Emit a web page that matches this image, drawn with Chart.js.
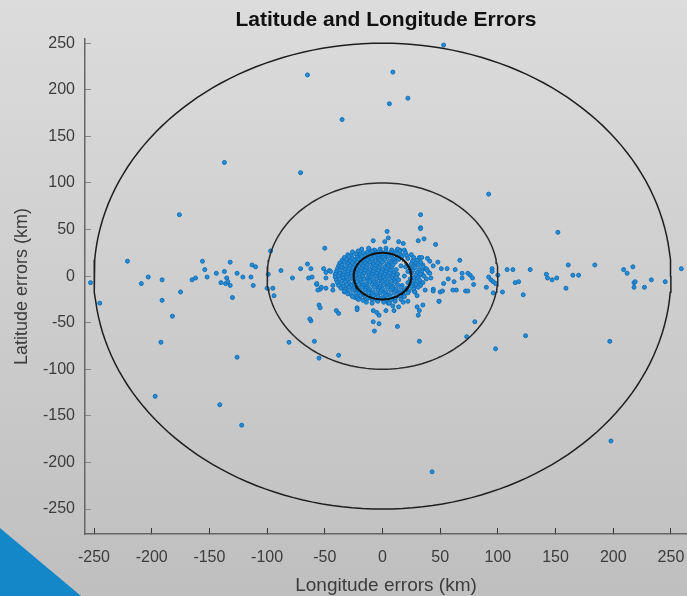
<!DOCTYPE html>
<html>
<head>
<meta charset="utf-8">
<script src="https://cdn.jsdelivr.net/npm/chart.js@4.4.0/dist/chart.umd.min.js"></script>
<style>
  html, body { margin: 0; padding: 0; background: #d0d0d0; }
  #wrap { width: 687px; height: 596px; }
</style>
</head>
<body>
<div id="wrap"><canvas id="errChart" width="687" height="596"></canvas></div>
<script>
// Error rings (km) and axis ticks
var ringRadii = [25, 100, 250];
var xTicks = [-250, -200, -150, -100, -50, 0, 50, 100, 150, 200, 250];
var yTicks = [-250, -200, -150, -100, -50, 0, 50, 100, 150, 200, 250];

// [longitude error, latitude error] in km, far scattered fixes
var farPts = [
    [53, 248], [-65, 216], [9, 219], [22, 191], [6, 185], [-35, 168], [-137, 122], [-71, 111],
    [-176, 66], [92, 88], [33, 66], [33, 52], [152, 47], [4, 48],
    [-192, -71], [-126, -87], [-197, -129], [-141, -138], [-122, -160], [-81, -71], [-59, -70],
    [-55, -88], [-38, -85], [-8, -49], [-3, -51], [-7, -59], [-62, -48],
    [13, -54], [32, -70], [73, -65], [80, -49], [98, -78], [124, -64], [197, -70], [198, -177], [43, -210],
    [-63, -46], [-55, -31], [-54, -34], [-40, -37], [-38, -40], [-22, -34], [-22, -36], [-8, -37],
    [-5, -39], [-3, -42], [3, -37], [10, -37], [30, -33], [35, -31], [32, -37], [31, -42], [49, -27],
    [-8, 38], [2, 37], [5, 41], [14, 37], [18, 35], [15, 28], [19, 28], [31, 38], [36, 40], [33, 51],
    [46, 34], [32, 20], [34, 20], [39, 19], [41, 16], [48, 15], [67, 17], [-50, 30], [-31, 17],
    [-33, 8], [-11, 27], [-6, 27], [-22, 24], [-20, 23], [-4, 20], [-1, 20]
];

// fixes along the east-west band
var bandPts = [
    [-253, -7], [-245, -29], [-221, 16], [-209, -8], [-203, -1], [-191, -4], [-191, -26], [-182, -43],
    [-175, -17], [-165, -4], [-162, -2], [-156, 16], [-154, 7], [-152, -1], [-144, 3], [-140, -7],
    [-137, 5], [-136, -8], [-135, -2], [-134, -6], [-132, 15], [-132, -10], [-130, -23], [-126, 3],
    [-121, -1], [-114, -1], [-113, 12], [-110, 10], [-112, -10], [-100, -13], [-97, 27], [-99, 2],
    [-95, -13], [-94, -21], [-88, 6], [-78, -2], [-71, 8], [-65, 13], [-62, 8], [-64, -2], [-61, -1],
    [-57, -9], [-54, -14], [-51, 8], [-49, -2], [-46, 6], [-49, -13], [-43, -10], [-33, -17],
    [-24, -23], [-20, -23], [-49, 4], [-45, 5], [-56, -15], [-43, -15], [-57, -8], [-53, -12],
    [95, 8], [92, -1], [94, -4], [96, -6], [98, -8], [90, -12], [96, -18], [100, 1], [95, 5],
    [104, -17], [108, 7], [113, 7], [115, -7], [118, -6], [122, -20], [128, 7], [142, 2], [143, -2],
    [147, -4], [151, -2], [161, 12], [165, 1], [170, 1], [159, -13], [184, 12], [209, 7], [212, 3],
    [217, 10], [218, -7], [219, -6], [218, -12], [227, -12], [233, -4], [245, -6], [259, 8],
    [44, 11], [51, 8], [56, 8], [63, 7], [57, -3], [53, -8], [62, -6], [69, 3], [74, 3], [76, 1],
    [78, -2], [79, -9], [72, -16], [64, -15], [50, -17], [44, -14], [37, -15], [28, -17], [30, -21],
    [27, -11], [33, -7], [35, 1], [37, 8], [35, 12], [40, 4], [16, 11], [18, -28], [22, -27],
    [9, -32], [14, -33], [5, -29], [69, -2], [61, -15], [52, -16], [44, -16], [74, -16], [49, -27]
];

// dense core around the origin
var corePts = [
    [-18, 29], [-12, 30], [-7, 28], [-2, 29], [3, 30], [8, 28], [13, 29],
    [-26, 26], [-21, 27], [-17, 25], [-13, 26], [-9, 27], [-5, 25], [-1, 26], [3, 27], [7, 25], [11, 26], [15, 27], [20, 25],
    [-30, 23], [-27, 22], [-23, 24], [-19, 23], [-15, 22], [-11, 24], [-8, 23], [-4, 22], [0, 24], [4, 23], [8, 22], [12, 24], [16, 23], [21, 22], [25, 23],
    [-33, 20], [-29, 21], [-26, 19], [-22, 20], [-18, 21], [-14, 19], [-10, 20], [-7, 21], [-3, 19], [1, 20], [5, 21], [9, 19], [13, 20], [17, 21], [22, 19], [27, 20],
    [-35, 17], [-31, 18], [-28, 16], [-24, 17], [-21, 18], [-17, 16], [-13, 17], [-9, 18], [-6, 16], [-2, 17], [2, 18], [6, 16], [10, 17], [14, 18], [26, 16], [30, 17],
    [-37, 14], [-33, 15], [-30, 13], [-26, 14], [-22, 15], [-19, 13], [-15, 14], [-11, 15], [-8, 13], [-4, 14], [0, 15], [4, 13], [8, 14], [11, 15], [25, 13], [29, 14], [33, 15],
    [-38, 11], [-35, 12], [-31, 10], [-28, 11], [-24, 12], [-20, 10], [-17, 11], [-13, 12], [-9, 10], [-6, 11], [-2, 12], [2, 10], [5, 11], [9, 12], [20, 10], [27, 11], [31, 12], [35, 10],
    [-39, 8], [-36, 9], [-32, 7], [-29, 8], [-25, 9], [-22, 7], [-18, 8], [-14, 9], [-11, 7], [-7, 8], [-3, 9], [0, 7], [4, 8], [8, 9], [12, 7], [24, 8], [28, 9], [32, 7], [38, 8],
    [-40, 5], [-37, 6], [-33, 4], [-30, 5], [-26, 6], [-23, 4], [-19, 5], [-15, 6], [-12, 4], [-8, 5], [-4, 6], [-1, 4], [3, 5], [7, 6], [10, 4], [22, 5], [26, 6], [30, 4], [34, 5], [39, 6],
    [-41, 2], [-37, 3], [-34, 1], [-30, 2], [-27, 3], [-23, 1], [-20, 2], [-16, 3], [-12, 1], [-9, 2], [-5, 3], [-2, 1], [2, 2], [6, 3], [9, 1], [13, 2], [25, 3], [29, 1], [33, 2], [41, 3],
    [-41, -1], [-38, 0], [-34, -2], [-31, -1], [-27, 0], [-24, -2], [-20, -1], [-17, 0], [-13, -2], [-10, -1], [-6, 0], [-2, -2], [1, -1], [5, 0], [8, -2], [12, -1], [19, 0], [27, -2], [31, -1], [36, 0], [42, -2],
    [-40, -4], [-37, -3], [-33, -5], [-30, -4], [-26, -3], [-23, -5], [-19, -4], [-16, -3], [-12, -5], [-9, -4], [-5, -3], [-1, -5], [2, -4], [6, -3], [10, -5], [14, -4], [24, -3], [28, -5], [32, -4], [38, -3],
    [-39, -7], [-36, -8], [-32, -6], [-29, -7], [-25, -8], [-22, -6], [-18, -7], [-14, -8], [-11, -6], [-7, -7], [-4, -8], [0, -6], [4, -7], [7, -8], [11, -6], [22, -7], [26, -8], [30, -6], [35, -7],
    [-38, -10], [-34, -11], [-31, -9], [-27, -10], [-24, -11], [-20, -9], [-17, -10], [-13, -11], [-9, -9], [-6, -10], [-2, -11], [1, -9], [5, -10], [9, -11], [13, -9], [17, -10], [25, -11], [29, -9], [33, -10],
    [-36, -13], [-32, -14], [-29, -12], [-25, -13], [-22, -14], [-18, -12], [-14, -13], [-11, -14], [-7, -12], [-3, -13], [0, -14], [4, -12], [8, -13], [12, -14], [16, -12], [21, -13], [27, -14], [31, -12],
    [-33, -16], [-30, -17], [-26, -15], [-23, -16], [-19, -17], [-15, -15], [-12, -16], [-8, -17], [-4, -15], [-1, -16], [3, -17], [7, -15], [11, -16], [15, -17], [19, -15], [23, -16], [28, -17],
    [-30, -19], [-27, -20], [-23, -18], [-20, -19], [-16, -20], [-12, -18], [-9, -19], [-5, -20], [-2, -18], [2, -19], [6, -20], [10, -18], [14, -19], [18, -20], [22, -18],
    [-26, -22], [-22, -23], [-19, -21], [-15, -22], [-11, -23], [-8, -21], [-4, -22], [0, -23], [3, -21], [7, -22], [11, -23], [15, -21], [19, -22],
    [-21, -25], [-17, -26], [-13, -24], [-9, -25], [-5, -26], [-1, -24], [3, -25], [7, -26], [11, -24], [16, -25],
    [-14, -28], [-9, -29], [-4, -27], [1, -28], [6, -29], [11, -27]
];

function toXY(list) {
    return list.map(function (p) { return {x: p[0], y: p[1]}; });
}

function ringPoints(r) {
    var pts = [];
    for (var a = 0; a <= 360; a += 2) {
        var t = a * Math.PI / 180;
        pts.push({x: r * Math.cos(t), y: r * Math.sin(t)});
    }
    return pts;
}

var backdrop = {
    id: 'backdrop',
    beforeDraw: function (chart) {
        var ctx = chart.ctx;
        var g = ctx.createLinearGradient(0, 0, 0, chart.height);
        g.addColorStop(0, '#dcdcdc');
        g.addColorStop(1, '#bfbfbf');
        ctx.save();
        ctx.fillStyle = g;
        ctx.fillRect(0, 0, chart.width, chart.height);
        // corner accent
        ctx.fillStyle = '#1487c9';
        ctx.beginPath();
        ctx.moveTo(0, chart.height - 68);
        ctx.lineTo(81, chart.height);
        ctx.lineTo(0, chart.height);
        ctx.closePath();
        ctx.fill();
        ctx.restore();
    }
};

var txtFont = 'Liberation Sans, Arial, Helvetica, sans-serif';
var ringWidths = [2, 1.5, 1.5];
var ringColors = ['#111111', '#2a2a2a', '#1e1e1e'];

var datasets = ringRadii.map(function (r, i) {
    return {
        type: 'line',
        data: ringPoints(r),
        borderColor: ringColors[i],
        borderWidth: ringWidths[i],
        pointRadius: 0,
        pointHoverRadius: 0,
        tension: 0,
        fill: false,
        order: 0
    };
});
datasets.push({
    type: 'scatter',
    data: toXY(farPts.concat(bandPts, corePts)),
    pointRadius: 2,
    borderWidth: 1,
    borderColor: '#0d72be',
    backgroundColor: '#2c8bd0',
    order: 1
});

new Chart(document.getElementById('errChart'), {
    type: 'scatter',
    data: {datasets: datasets},
    plugins: [backdrop],
    options: {
        responsive: false,
        animation: false,
        layout: {padding: 0, autoPadding: false},
        plugins: {
            legend: {display: false},
            tooltip: {enabled: false},
            title: {
                display: true,
                fullSize: false,
                text: 'Latitude and Longitude Errors',
                color: '#111',
                font: {family: txtFont, size: 21, weight: 'bold'},
                padding: {top: 8, bottom: 6}
            }
        },
        scales: {
            x: {
                type: 'linear',
                position: 'bottom',
                min: -257.8,
                max: 263.9,
                afterBuildTicks: function (s) {
                    s.ticks = xTicks.map(function (v) { return {value: v}; });
                },
                afterFit: function (s) {
                    s.height = 62;
                    s.paddingLeft = 0;
                    s.paddingRight = 0;
                },
                grid: {drawOnChartArea: false, tickLength: -6, color: '#333', lineWidth: 1},
                border: {color: '#666', width: 1.5},
                ticks: {
                    padding: 20,
                    maxRotation: 0,
                    color: '#3c3c3c',
                    font: {family: txtFont, size: 16}
                },
                title: {
                    display: true,
                    text: 'Longitude errors (km)',
                    color: '#3c3c3c',
                    font: {family: txtFont, size: 19},
                    padding: {top: 0, bottom: -1}
                }
            },
            y: {
                type: 'linear',
                min: -276.8,
                max: 254.3,
                afterBuildTicks: function (s) {
                    s.ticks = yTicks.map(function (v) { return {value: v}; });
                },
                afterFit: function (s) {
                    s.width = 85;
                    s.paddingTop = 0;
                    s.paddingBottom = 0;
                },
                grid: {drawOnChartArea: false, tickLength: -6, color: '#888', lineWidth: 1},
                border: {color: '#666', width: 1.5},
                ticks: {
                    padding: 16,
                    color: '#3c3c3c',
                    font: {family: txtFont, size: 16}
                },
                title: {
                    display: true,
                    text: 'Latitude errors (km)',
                    color: '#3c3c3c',
                    font: {family: txtFont, size: 18},
                    padding: {top: 11, bottom: 0}
                }
            }
        }
    }
});
</script>
</body>
</html>
